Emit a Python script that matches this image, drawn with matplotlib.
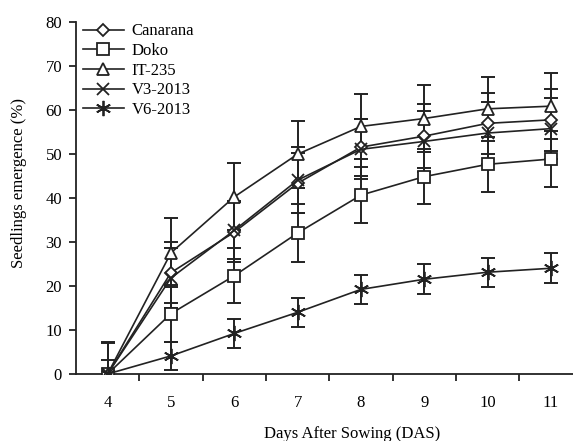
import numpy as np
import matplotlib
matplotlib.use("Agg")
import matplotlib.pyplot as plt

plt.rcParams['font.family'] = ['Liberation Serif', 'DejaVu Serif']

# data
days = [4, 5, 6, 7, 8, 9, 10, 11]
names = ['Canarana', 'Doko', 'IT-235', 'V3-2013', 'V6-2013']
canarana = [0, 23.0, 32.2, 43.3, 51.5, 54.0, 56.9, 57.7]
doko = [0, 13.7, 22.3, 32.0, 40.6, 44.8, 47.6, 48.8]
it235 = [0, 27.5, 40.2, 49.9, 56.2, 58.0, 60.2, 60.8]
v3 = [0, 21.8, 32.6, 44.0, 51.0, 52.8, 54.7, 55.7]
v6 = [0, 4.1, 9.2, 14.0, 19.2, 21.5, 23.1, 24.0]
canarana_sd = [0, 7.0, 6.8, 6.8, 6.5, 7.2, 7.0, 7.0]
doko_sd = [7.2, 6.4, 6.2, 6.5, 6.3, 6.2, 6.2, 6.3]
it235_sd = [7.0, 7.8, 7.6, 7.6, 7.4, 7.5, 7.2, 7.5]
v3_sd = [3.2, 6.8, 6.6, 7.5, 6.8, 7.0, 7.0, 7.0]
v6_sd = [0, 3.2, 3.3, 3.3, 3.3, 3.4, 3.3, 3.4]

series = [canarana, doko, it235, v3, v6]
errs = [canarana_sd, doko_sd, it235_sd, v3_sd, v6_sd]
markers = ['D', 's', '^', 'x', (6, 2, 0)]
sizes = [6.5, 8, 8, 9, 11]

col = '#222222'
fs = 12
x = np.arange(len(days))

fig = plt.figure(figsize=(5.73, 4.41), dpi=100)
ax = fig.add_axes([0.1326, 0.152, 0.8674, 0.799])

for y, e in zip(series, errs):
    ax.errorbar(x, y, yerr=e, fmt='none', ecolor=col, elinewidth=1.4,
                capsize=5, capthick=1.4, zorder=2)

for y, m, s, lab in zip(series, markers, sizes, names):
    ax.plot(x, y, color=col, lw=1.2, marker=m, ms=s, mfc='white',
            mec=col, mew=1.3, label=lab, zorder=3)

ax.set_xlim(-0.5, 7.35)
ax.set_ylim(0, 80)
ax.set_yticks(range(0, 81, 10))
ax.set_xticks(x)
ax.set_xticklabels([str(d) for d in days])
ax.set_xticks(x[:-1] + 0.5, minor=True)
ax.tick_params(axis='x', which='major', length=0, pad=15, labelsize=fs)
ax.tick_params(axis='x', which='minor', length=5, width=1.3, direction='out', color=col)
ax.tick_params(axis='y', length=5, width=1.3, direction='out', color=col,
               labelsize=fs, pad=5)

for s in ['top', 'right']:
    ax.spines[s].set_visible(False)
for s in ['left', 'bottom']:
    ax.spines[s].set_linewidth(1.3)
    ax.spines[s].set_color(col)

ax.set_xlabel('Days After Sowing (DAS)', fontsize=fs)
ax.xaxis.set_label_coords(0.555, -0.148)
ax.set_ylabel('Seedlings emergence (%)', fontsize=fs)
ax.yaxis.set_label_coords(-0.099, 0.541)

ax.legend(loc='upper left', bbox_to_anchor=(0.014, 0.995), frameon=False,
          fontsize=fs, handlelength=2.46, handletextpad=0.46,
          labelspacing=0.22, borderpad=0, borderaxespad=0)

fig.savefig('out.png', dpi=100)
